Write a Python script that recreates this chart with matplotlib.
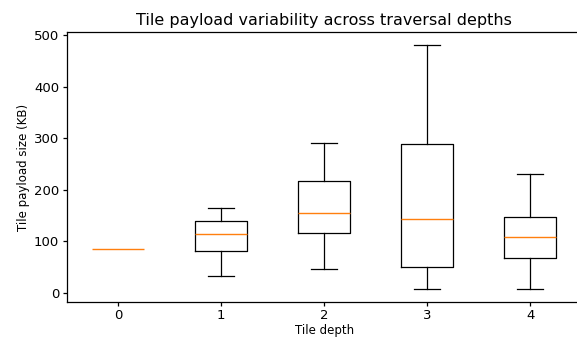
import matplotlib
matplotlib.use("Agg")
from matplotlib import pyplot as plt

depths = ["0", "1", "2", "3", "4"]
whisker_low = [84, 33, 46, 6, 6]
q1 = [84, 80, 116, 49, 67]
medians = [84, 113, 155, 142, 107]
q3 = [84, 139, 216, 288, 146]
whisker_high = [84, 165, 290, 482, 231]


def build_stats():
    stats = []
    for i, label in enumerate(depths):
        stats.append({
            "label": label,
            "whislo": whisker_low[i],
            "q1": q1[i],
            "med": medians[i],
            "q3": q3[i],
            "whishi": whisker_high[i],
            "fliers": [],
        })
    return stats


fig = plt.figure(figsize=(5.77, 3.38), dpi=100)
ax = fig.add_axes([0.1156, 0.1074, 0.8925, 0.797])
parts = ax.bxp(build_stats(), showfliers=False,
               boxprops=dict(linewidth=0.9), whiskerprops=dict(linewidth=0.9),
               capprops=dict(linewidth=0.9), medianprops=dict(linewidth=1.0))

# a depth with a single tile collapses to its median line only
for i in range(len(depths)):
    if q1[i] == q3[i] and whisker_low[i] == whisker_high[i]:
        parts["boxes"][i].set_visible(False)
        for art in parts["whiskers"][2 * i:2 * i + 2] + parts["caps"][2 * i:2 * i + 2]:
            art.set_visible(False)

for spine in ax.spines.values():
    spine.set_linewidth(0.9)

ax.set_title("Tile payload variability across traversal depths", fontsize=11.5, pad=5)
ax.set_xlabel("Tile depth", fontsize=8.5, labelpad=1.5)
ax.set_ylabel("Tile payload size (KB)", fontsize=8.5, labelpad=3)
ax.tick_params(labelsize=9.5, length=3, pad=2.5, width=0.9)

fig.savefig("out.png", dpi=100)
plt.close(fig)
